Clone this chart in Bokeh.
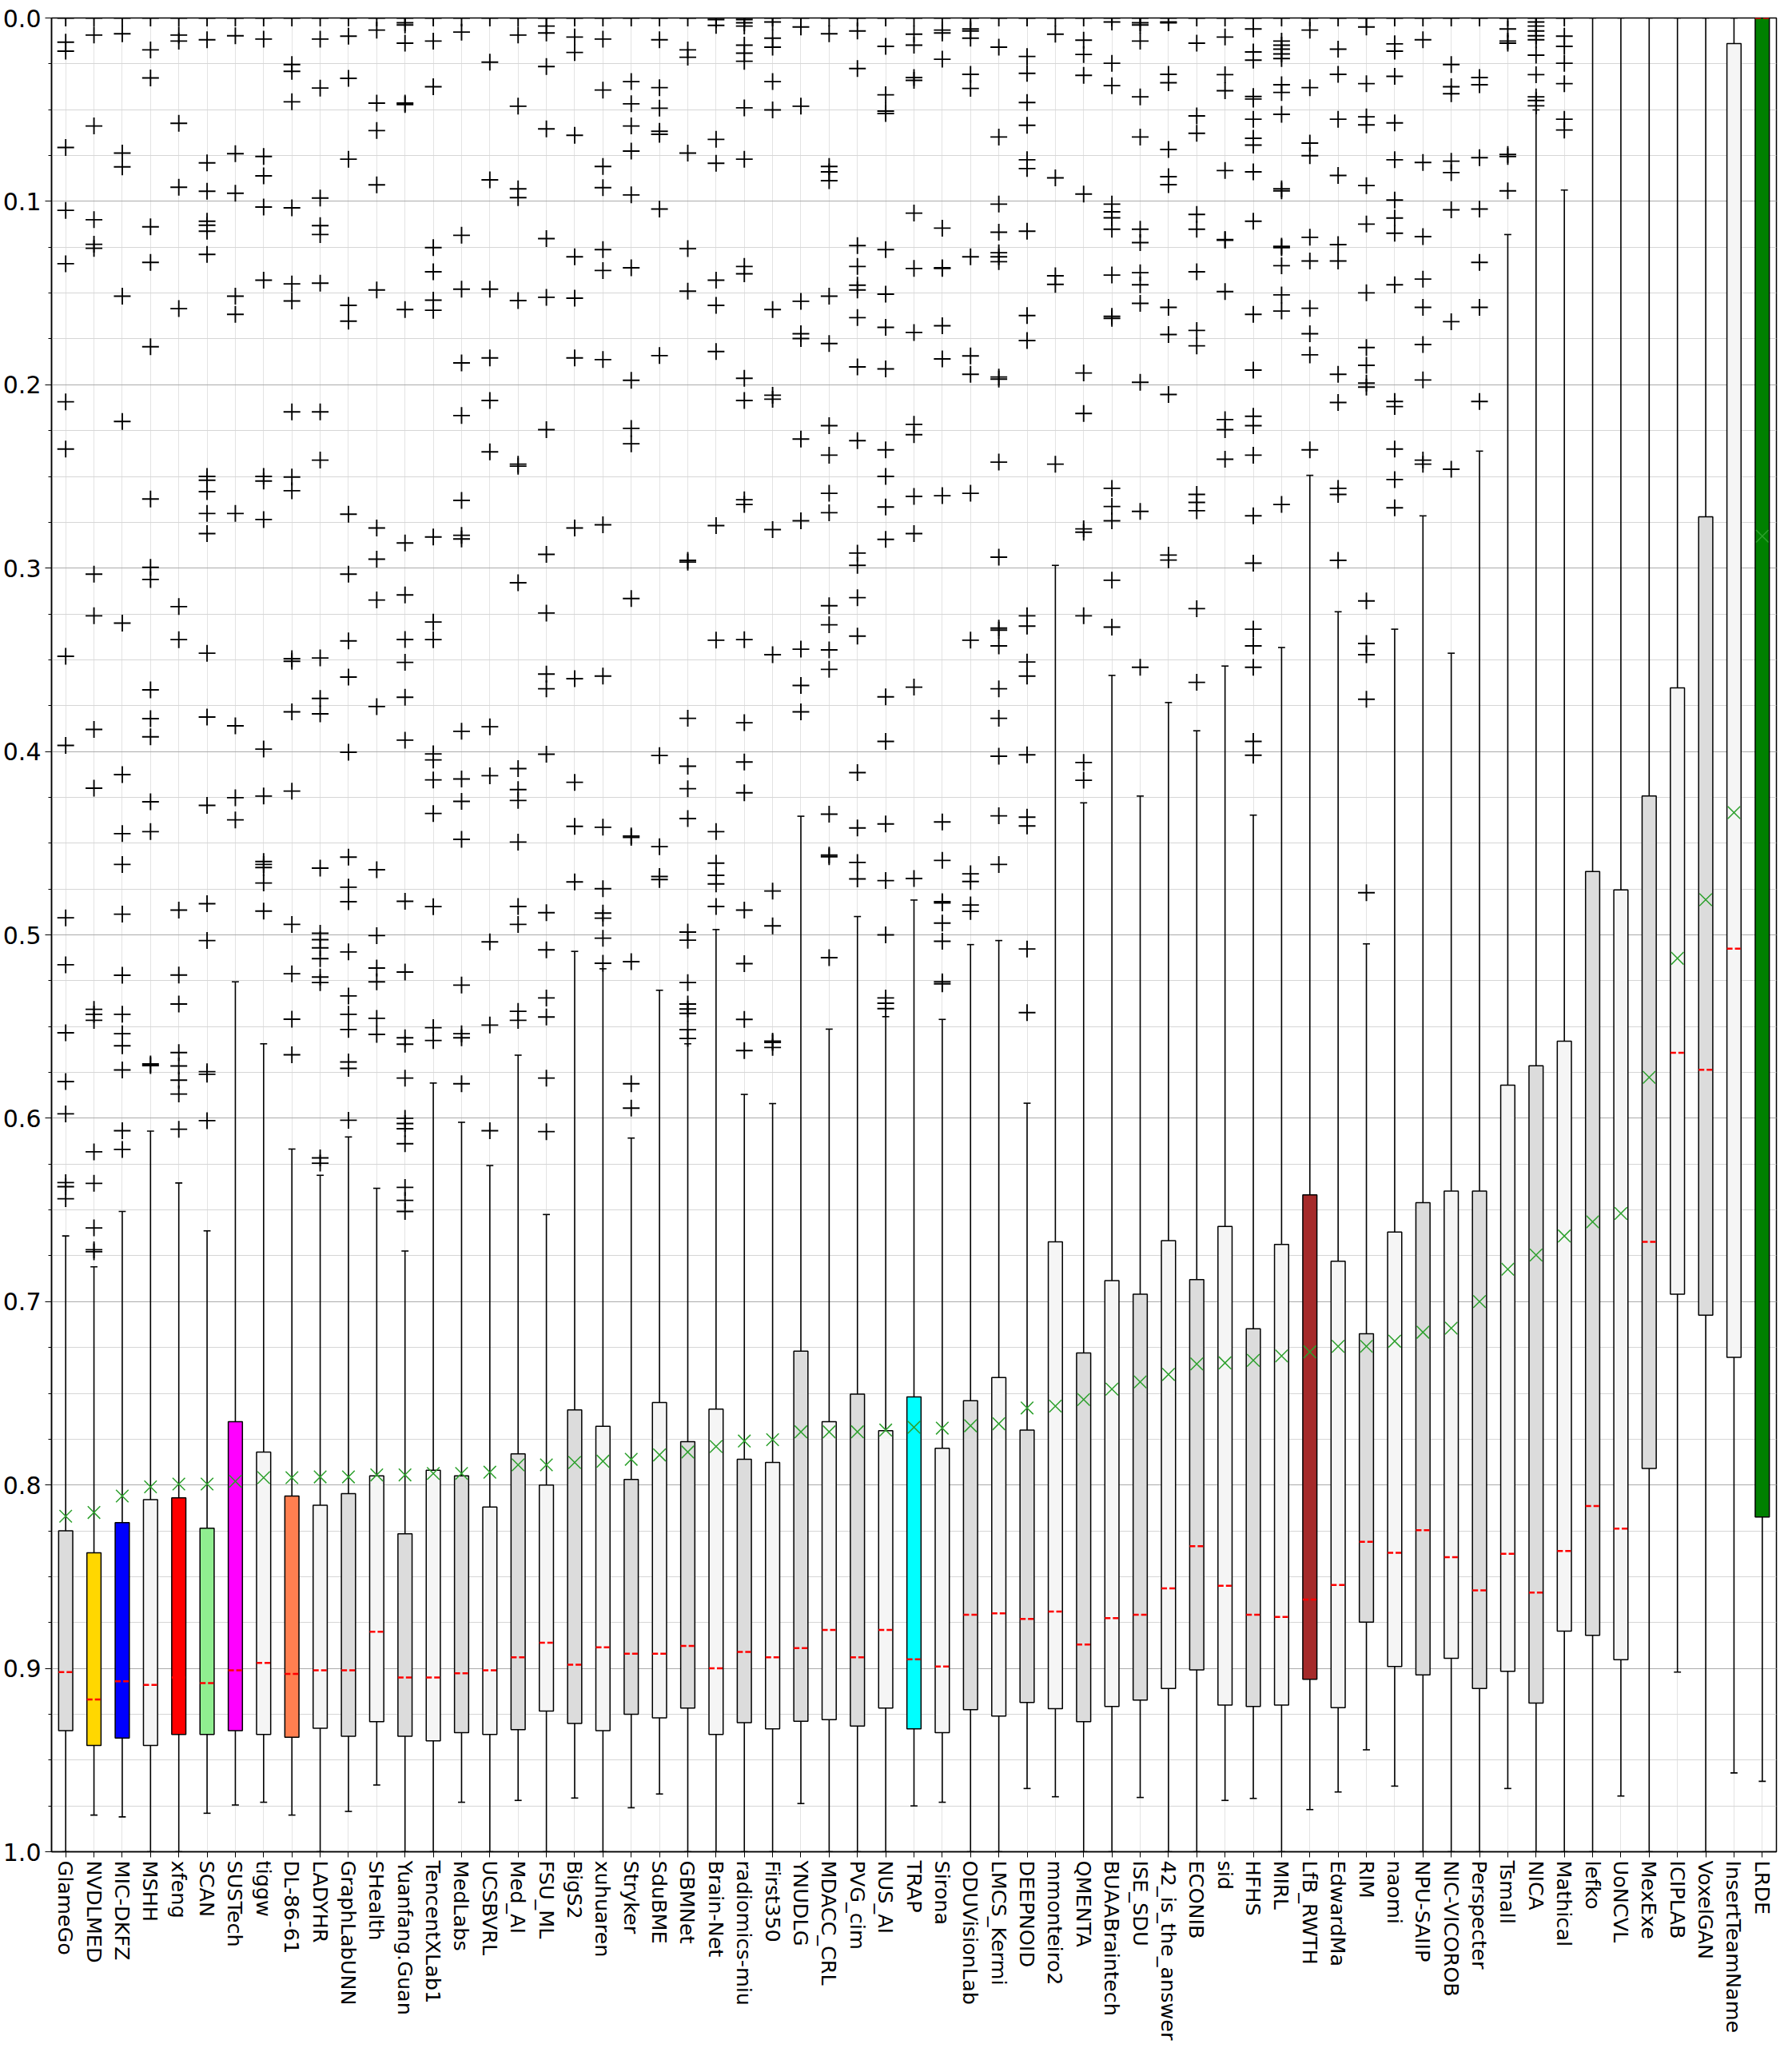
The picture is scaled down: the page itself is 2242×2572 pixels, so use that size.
import numpy as np
from bokeh.plotting import figure
from bokeh.models import Range1d, FixedTicker, PrintfTickFormatter, ColumnDataSource
from bokeh.embed import file_html
from bokeh.resources import INLINE

teams = ["GlameGo", "NVDLMED", "MIC-DKFZ", "MSHH", "xfeng", "SCAN", "SUSTech", "tiggw",
         "DL-86-61", "LADYHR", "GraphLabUNN", "SHealth", "Yuanfang.Guan", "TencentXLab1",
         "MedLabs", "UCSBVRL", "Med_AI", "FSU_ML", "BigS2", "xuhuaren", "Stryker", "SduBME",
         "GBMNet", "Brain-Net", "radiomics-miu", "First350", "YNUDLG", "MDACC_CRL", "PVG_cim",
         "NUS_AI", "TRAP", "Sirona", "ODUVisionLab", "LMCS_Kermi", "DEEPNOID", "mmonteiro2",
         "QMENTA", "BUAABraintech", "ISE_SDU", "42_is_the_answer", "ECONIB", "sid", "HFHS",
         "MIRL", "LfB_RWTH", "EdwardMa", "RIM", "naomi", "NPU-SAIIP", "NIC-VICOROB",
         "Perspecter", "Tsmall", "NICA", "Mathical", "lefko", "UoNCVL", "MexExe", "ICIPLAB",
         "VoxelGAN", "InsertTeamName", "LRDE"]

# box top (lower quartile value, drawn higher since axis is inverted)
q_low = [0.825, 0.837, 0.8205, 0.808, 0.807, 0.8236, 0.7655, 0.782, 0.806, 0.811,
         0.8047, 0.795, 0.8266, 0.792, 0.795, 0.812, 0.783, 0.800, 0.759, 0.768,
         0.797, 0.755, 0.7764, 0.7586, 0.786, 0.7877, 0.727, 0.7655, 0.7504, 0.7704,
         0.752, 0.780, 0.754, 0.7414, 0.770, 0.6674, 0.728, 0.6885, 0.696, 0.6667,
         0.688, 0.659, 0.7148, 0.6688, 0.6418, 0.678, 0.7175, 0.662, 0.646, 0.6397,
         0.6397, 0.582, 0.5714, 0.558, 0.4655, 0.4755, 0.4243, 0.3653, 0.272, 0.0139,
         0.0]
q_high = [0.934, 0.942, 0.938, 0.942, 0.936, 0.936, 0.934, 0.936, 0.9375, 0.9326,
          0.937, 0.929, 0.937, 0.9395, 0.935, 0.936, 0.9334, 0.9233, 0.930, 0.934,
          0.925, 0.927, 0.9216, 0.936, 0.9296, 0.933, 0.9288, 0.928, 0.9315, 0.9216,
          0.933, 0.935, 0.9225, 0.926, 0.9186, 0.922, 0.929, 0.9208, 0.9173, 0.911,
          0.9008, 0.920, 0.9208, 0.920, 0.906, 0.9214, 0.8748, 0.899, 0.9035, 0.8945,
          0.911, 0.9016, 0.9189, 0.8797, 0.882, 0.8953, 0.791, 0.696, 0.7074, 0.7304,
          0.8175]
medians = [0.902, 0.917, 0.907, 0.909, 0.905, 0.908, 0.901, 0.897, 0.903, 0.901,
           0.901, 0.880, 0.905, 0.905, 0.9027, 0.901, 0.894, 0.886, 0.898, 0.8885,
           0.892, 0.892, 0.8877, 0.900, 0.891, 0.894, 0.889, 0.879, 0.894, 0.879,
           0.895, 0.899, 0.8707, 0.870, 0.873, 0.869, 0.887, 0.8726, 0.8707, 0.8564,
           0.8334, 0.855, 0.8707, 0.872, 0.8625, 0.8545, 0.831, 0.837, 0.8247, 0.8394,
           0.8575, 0.8375, 0.8586, 0.836, 0.8115, 0.8238, 0.6674, 0.5643, 0.5736, 0.5075,
           0.0]
means = [0.817, 0.815, 0.806, 0.801, 0.7995, 0.7995, 0.798, 0.796, 0.796, 0.7956,
         0.7956, 0.7945, 0.7945, 0.7937, 0.7937, 0.793, 0.789, 0.789, 0.7877, 0.787,
         0.786, 0.7836, 0.782, 0.779, 0.776, 0.7753, 0.771, 0.771, 0.771, 0.770,
         0.7685, 0.769, 0.7677, 0.7666, 0.758, 0.757, 0.7534, 0.7477, 0.7438, 0.7397,
         0.734, 0.7334, 0.732, 0.7296, 0.7274, 0.7244, 0.7244, 0.7216, 0.7167, 0.7145,
         0.700, 0.6823, 0.6746, 0.6642, 0.6565, 0.6519, 0.5777, 0.5128, 0.4808, 0.4333,
         0.2826]
whisker_low = [0.6642, 0.681, 0.6508, 0.607, 0.6353, 0.6614, 0.5256, 0.5594, 0.6168, 0.6311,
               0.6102, 0.6382, 0.6724, 0.5808, 0.6022, 0.6258, 0.5656, 0.6525, 0.509, 0.5185,
               0.6108, 0.5302, 0.5594, 0.4971, 0.587, 0.592, 0.4353, 0.5514, 0.49, 0.5446,
               0.481, 0.5461, 0.5053, 0.5031, 0.5918, 0.2985, 0.428, 0.3585, 0.4243, 0.3733,
               0.3887, 0.3534, 0.4347, 0.3433, 0.2494, 0.3238, 0.5049, 0.3333, 0.2715, 0.3464,
               0.2362, 0.1181, 0.0501, 0.0938, 0.0, 0.0, 0.0, 0.0, 0.0, 0.0,
               0.0]
whisker_high = [1.0, 0.980, 0.981, 1.0, 1.0, 0.979, 0.9745, 0.973, 0.980, 1.0,
                0.978, 0.9636, 1.0, 1.0, 0.973, 1.0, 0.972, 1.0, 0.9707, 1.0,
                0.976, 0.9685, 1.0, 1.0, 1.0, 1.0, 0.9737, 1.0, 1.0, 1.0,
                0.975, 0.973, 1.0, 1.0, 0.9655, 0.970, 1.0, 1.0, 0.9704, 1.0,
                1.0, 0.972, 0.9709, 1.0, 0.977, 0.9674, 0.9444, 0.9642, 1.0, 1.0,
                1.0, 0.9655, 1.0, 1.0, 1.0, 0.9696, 1.0, 0.902, 1.0, 0.957,
                0.9616]

fliers = [
    [0.0, 0.0132, 0.0181, 0.0706, 0.1049, 0.134, 0.2093, 0.2351, 0.3481, 0.3967, 0.4907, 0.5163, 0.5534, 0.58, 0.5976, 0.6351, 0.6373, 0.6439],
    [0.0, 0.0093, 0.0589, 0.110, 0.1234, 0.1256, 0.3033, 0.326, 0.388, 0.420, 0.5406, 0.5433, 0.5466, 0.6183, 0.6355, 0.6598, 0.6717, 0.6728],
    [0.0, 0.0086, 0.0737, 0.0812, 0.1517, 0.22, 0.33, 0.4126, 0.4448, 0.4616, 0.4887, 0.522, 0.5433, 0.5539, 0.5605, 0.5737, 0.6068, 0.617],
    [0.0, 0.0174, 0.0327, 0.1139, 0.1333, 0.1793, 0.2623, 0.2996, 0.3062, 0.3664, 0.3821, 0.392, 0.4274, 0.4437, 0.5704, 0.5713],
    [0.0, 0.0093, 0.0126, 0.0574, 0.0923, 0.1585, 0.321, 0.339, 0.4865, 0.5219, 0.5377, 0.5642, 0.5715, 0.5792, 0.5868, 0.606],
    [0.0, 0.0119, 0.079, 0.0945, 0.1108, 0.113, 0.1163, 0.1289, 0.25, 0.2521, 0.2583, 0.2702, 0.2812, 0.3464, 0.3812, 0.4294, 0.483, 0.5031, 0.5746, 0.576, 0.6013],
    [0.0, 0.0097, 0.074, 0.0956, 0.1517, 0.1616, 0.2702, 0.386, 0.4252, 0.4373],
    [0.0, 0.0115, 0.0755, 0.0861, 0.1031, 0.143, 0.25, 0.2525, 0.2735, 0.3987, 0.4243, 0.46, 0.4616, 0.4633, 0.4717, 0.487],
    [0.0, 0.0254, 0.0291, 0.0457, 0.1035, 0.145, 0.1543, 0.2148, 0.2503, 0.2578, 0.3494, 0.3508, 0.3784, 0.4216, 0.4943, 0.5212, 0.546, 0.5654],
    [0.0, 0.0115, 0.0382, 0.0982, 0.1132, 0.1181, 0.1446, 0.2148, 0.2411, 0.349, 0.3711, 0.3795, 0.4636, 0.4991, 0.5026, 0.5071, 0.513, 0.523, 0.526, 0.6216, 0.6245],
    [0.0, 0.0099, 0.0329, 0.077, 0.1567, 0.1653, 0.2706, 0.3033, 0.3397, 0.3594, 0.4004, 0.4576, 0.474, 0.4819, 0.5093, 0.5333, 0.5433, 0.5516, 0.5693, 0.5728, 0.6011],
    [0.0, 0.0066, 0.0464, 0.0614, 0.091, 0.1483, 0.2781, 0.2951, 0.3174, 0.3755, 0.4645, 0.5004, 0.5181, 0.5256, 0.5455, 0.5543],
    [0.0, 0.0026, 0.0038, 0.0137, 0.0464, 0.0472, 0.159, 0.2863, 0.3146, 0.3389, 0.3514, 0.3704, 0.3938, 0.4817, 0.5203, 0.5561, 0.5596, 0.5781, 0.6, 0.6029, 0.6057, 0.6139, 0.6377, 0.6448, 0.6508],
    [0.0, 0.0126, 0.0375, 0.1252, 0.1384, 0.1539, 0.1594, 0.283, 0.3294, 0.339, 0.4013, 0.4046, 0.4155, 0.4338, 0.4846, 0.5506, 0.5576],
    [0.0, 0.0077, 0.1185, 0.1479, 0.1881, 0.2168, 0.2631, 0.2821, 0.2841, 0.389, 0.415, 0.4272, 0.4479, 0.5274, 0.5539, 0.5561, 0.5812],
    [0.0, 0.0241, 0.0883, 0.1479, 0.1854, 0.2086, 0.2366, 0.3865, 0.4132, 0.5038, 0.5492, 0.6068],
    [0.0, 0.0093, 0.0481, 0.0932, 0.098, 0.1541, 0.2433, 0.2444, 0.308, 0.4093, 0.4208, 0.4267, 0.4494, 0.4845, 0.4943, 0.5417, 0.5466],
    [0.0, 0.0044, 0.0082, 0.0265, 0.0605, 0.1203, 0.1523, 0.2245, 0.2925, 0.3245, 0.3578, 0.3658, 0.4015, 0.4879, 0.5082, 0.5344, 0.5448, 0.5781, 0.6073],
    [0.0, 0.0104, 0.0188, 0.064, 0.1302, 0.1528, 0.1854, 0.2781, 0.3603, 0.4168, 0.4408, 0.4711],
    [0.0, 0.0115, 0.0393, 0.081, 0.0925, 0.1263, 0.1377, 0.1863, 0.2764, 0.3589, 0.4413, 0.4748, 0.4881, 0.4909, 0.5018, 0.5155],
    [0.0, 0.0347, 0.0468, 0.0589, 0.0726, 0.0965, 0.1362, 0.1976, 0.2238, 0.2322, 0.3166, 0.4461, 0.4468, 0.5146, 0.5812, 0.5945],
    [0.0, 0.0119, 0.038, 0.0492, 0.0618, 0.0634, 0.1042, 0.1841, 0.4022, 0.4519, 0.4682, 0.4698],
    [0.0, 0.0174, 0.0214, 0.0737, 0.1258, 0.149, 0.2958, 0.2967, 0.3819, 0.408, 0.4203, 0.4366, 0.4985, 0.5029, 0.526, 0.5377, 0.5404, 0.5428, 0.5517, 0.5565],
    [0.0, 0.0009, 0.004, 0.0662, 0.0792, 0.143, 0.1567, 0.1819, 0.2768, 0.3393, 0.4437, 0.4609, 0.4675, 0.4722, 0.4845],
    [0.0, 0.0009, 0.0026, 0.0044, 0.0148, 0.0192, 0.0236, 0.049, 0.077, 0.1355, 0.1395, 0.1965, 0.2086, 0.2627, 0.2653, 0.339, 0.3843, 0.4057, 0.4225, 0.4865, 0.5157, 0.5461, 0.5631],
    [0.0, 0.0022, 0.011, 0.0159, 0.0347, 0.0501, 0.159, 0.2057, 0.2079, 0.279, 0.3472, 0.4761, 0.4951, 0.558, 0.5587, 0.5614],
    [0.0, 0.0049, 0.0481, 0.1545, 0.1722, 0.1748, 0.2296, 0.2742, 0.3442, 0.364, 0.3784],
    [0.0, 0.0086, 0.081, 0.0839, 0.0887, 0.1517, 0.1775, 0.2223, 0.2384, 0.2592, 0.2698, 0.3205, 0.3309, 0.3446, 0.3552, 0.4342, 0.4565, 0.4574, 0.5124],
    [0.0, 0.0071, 0.0276, 0.1241, 0.1355, 0.1457, 0.1483, 0.1634, 0.1903, 0.2305, 0.2918, 0.2985, 0.3161, 0.3371, 0.4115, 0.4417, 0.4605, 0.4695],
    [0.0, 0.0155, 0.0419, 0.0508, 0.0521, 0.1263, 0.1506, 0.1687, 0.1914, 0.2355, 0.25, 0.2667, 0.2843, 0.3702, 0.3945, 0.4395, 0.4704, 0.5, 0.5344, 0.5373, 0.5402],
    [0.0, 0.0088, 0.0148, 0.0325, 0.034, 0.1064, 0.1366, 0.1715, 0.2216, 0.2272, 0.2609, 0.2812, 0.3649, 0.4693],
    [0.0, 0.0066, 0.0082, 0.0225, 0.1146, 0.1362, 0.1366, 0.1678, 0.1859, 0.2605, 0.4384, 0.4594, 0.4819, 0.4826, 0.4936, 0.5035, 0.5256, 0.5267],
    [0.0, 0.006, 0.0071, 0.011, 0.0307, 0.0384, 0.1302, 0.1843, 0.1943, 0.2592, 0.3393, 0.4667, 0.4709, 0.4837, 0.4872],
    [0.0, 0.0159, 0.0649, 0.1015, 0.1168, 0.128, 0.1302, 0.1329, 0.1958, 0.1969, 0.2422, 0.294, 0.3327, 0.3338, 0.3424, 0.3658, 0.3819, 0.4026, 0.4351, 0.4616],
    [0.0, 0.021, 0.0302, 0.0461, 0.0585, 0.0773, 0.0821, 0.1163, 0.1623, 0.1759, 0.326, 0.3316, 0.3512, 0.3589, 0.4018, 0.4358, 0.4406, 0.5077, 0.5424],
    [0.0, 0.0088, 0.0872, 0.1406, 0.1453, 0.2433],
    [0.0, 0.0121, 0.0199, 0.0313, 0.096, 0.1936, 0.2157, 0.2786, 0.2804, 0.326, 0.406, 0.4157],
    [0.0, 0.0022, 0.0247, 0.0369, 0.1015, 0.1057, 0.109, 0.1152, 0.1402, 0.1627, 0.1638, 0.2565, 0.2664, 0.2742, 0.3066, 0.3322],
    [0.0, 0.0026, 0.0038, 0.0126, 0.043, 0.0649, 0.1152, 0.1225, 0.1389, 0.1455, 0.1556, 0.1987, 0.2691, 0.3541],
    [0.0, 0.0022, 0.0026, 0.0307, 0.0353, 0.0717, 0.0865, 0.0909, 0.1578, 0.1726, 0.2053, 0.2929, 0.2956],
    [0.0, 0.0137, 0.0534, 0.0629, 0.1071, 0.1152, 0.1384, 0.1704, 0.1788, 0.2598, 0.2642, 0.2687, 0.3221, 0.3623],
    [0.0, 0.0104, 0.0309, 0.0397, 0.0832, 0.1208, 0.1212, 0.1492, 0.219, 0.2245, 0.2406],
    [0.0, 0.006, 0.0185, 0.023, 0.0428, 0.0442, 0.0552, 0.0656, 0.0693, 0.0839, 0.1108, 0.1616, 0.192, 0.2172, 0.2223, 0.2384, 0.2715, 0.2973, 0.3333, 0.3424, 0.3541, 0.3945, 0.402],
    [0.0, 0.0126, 0.0148, 0.017, 0.0196, 0.0221, 0.0364, 0.0406, 0.0525, 0.0932, 0.0943, 0.1245, 0.1252, 0.1351, 0.151, 0.1598, 0.2653],
    [0.0, 0.0066, 0.038, 0.0682, 0.0751, 0.1196, 0.1325, 0.1583, 0.1722, 0.1837, 0.2355],
    [0.0, 0.017, 0.0307, 0.0552, 0.0859, 0.1236, 0.1325, 0.1943, 0.2097, 0.2565, 0.2598, 0.2958],
    [0.0, 0.0049, 0.0358, 0.0539, 0.0583, 0.0914, 0.1124, 0.1499, 0.1797, 0.1894, 0.1991, 0.2013, 0.3179, 0.3411, 0.3472, 0.3715, 0.477],
    [0.0, 0.0141, 0.0181, 0.0318, 0.0572, 0.0773, 0.0993, 0.1091, 0.1174, 0.1455, 0.2091, 0.2119, 0.2351, 0.2517, 0.2671],
    [0.0, 0.0119, 0.0788, 0.1192, 0.1424, 0.1578, 0.1781, 0.1974, 0.2411, 0.2433],
    [0.0, 0.0254, 0.0375, 0.0413, 0.0781, 0.0843, 0.1046, 0.1656, 0.2461],
    [0.0, 0.0325, 0.0364, 0.0762, 0.1042, 0.1333, 0.1578, 0.2091],
    [0.0, 0.006, 0.0126, 0.0137, 0.0744, 0.0755, 0.0943],
    [0.0, 0.0022, 0.0044, 0.0071, 0.0097, 0.0119, 0.0203, 0.0309, 0.043, 0.045, 0.0479],
    [0.0, 0.0099, 0.0155, 0.0247, 0.0358, 0.0552, 0.0611],
    [], [], [], [], [], [], [],
]

highlight_colors = {"NVDLMED": "#FFD700", "MIC-DKFZ": "#0000FF", "xfeng": "#FF0000",
                    "SCAN": "#90EE90", "SUSTech": "#FF00FF", "DL-86-61": "#FF7F50",
                    "TRAP": "#00FFFF", "LfB_RWTH": "#A52A2A", "LRDE": "#008000"}

y_ticks = [0.0, 0.1, 0.2, 0.3, 0.4, 0.5, 0.6, 0.7, 0.8, 0.9, 1.0]
y_minor = [k * 0.025 for k in range(41)]

# ---------------------------------------------------------------
n = len(teams)
xs = list(range(n))
fills = [highlight_colors.get(t, "#dcdcdc" if i % 2 == 0 else "#f5f5f5") for i, t in enumerate(teams)]

box_w = 0.5
cap_w = 0.25

p = figure(width=2226, height=2556, x_range=Range1d(-0.5, n - 0.5), y_range=Range1d(1.0, 0.0),
           output_backend="svg", toolbar_location=None,
           min_border_left=64, min_border_right=4, min_border_top=22, min_border_bottom=240)

p.background_fill_color = "white"
p.border_fill_color = "white"
p.outline_line_color = "black"
p.outline_line_width = 1.5

# axes
p.xaxis.ticker = FixedTicker(ticks=xs)
p.xaxis.major_label_overrides = {i: t for i, t in enumerate(teams)}
p.xaxis.major_label_orientation = -np.pi / 2
p.xaxis.major_label_text_font = "DejaVu Sans"
p.xaxis.major_label_text_font_size = "25.5px"
p.xaxis.major_label_text_color = "black"
p.xaxis.major_label_standoff = 4
p.xaxis.major_tick_out = 7
p.xaxis.major_tick_in = 0
p.xaxis.minor_tick_out = 0
p.xaxis.axis_line_color = "black"
p.xaxis.axis_line_width = 1.5
p.xaxis.major_tick_line_color = "black"

p.yaxis.ticker = FixedTicker(ticks=y_ticks, minor_ticks=y_minor)
p.yaxis.formatter = PrintfTickFormatter(format="%.1f")
p.yaxis.major_label_text_font = "DejaVu Sans"
p.yaxis.major_label_text_font_size = "30px"
p.yaxis.major_label_text_color = "black"
p.yaxis.major_tick_out = 8
p.yaxis.major_tick_in = 0
p.yaxis.minor_tick_out = 4
p.yaxis.minor_tick_in = 0
p.yaxis.axis_line_color = "black"
p.yaxis.axis_line_width = 1.5

# grids
p.xgrid.grid_line_color = "#e3e3e3"
p.xgrid.grid_line_width = 1
p.ygrid.grid_line_color = "#ababab"
p.ygrid.grid_line_width = 1
p.ygrid.minor_grid_line_color = "#d6d6d6"
p.ygrid.minor_grid_line_width = 1

src = ColumnDataSource(dict(
    x=xs, q_low=q_low, q_high=q_high, med=medians, mean=means,
    wl=whisker_low, wh=whisker_high, fill=fills,
    xl=[x - box_w / 2 for x in xs], xr=[x + box_w / 2 for x in xs],
    cl=[x - cap_w / 2 for x in xs], cr=[x + cap_w / 2 for x in xs],
))

# whiskers
p.segment(x0="x", y0="wl", x1="x", y1="q_low", source=src, line_color="black", line_width=1.6)
p.segment(x0="x", y0="q_high", x1="x", y1="wh", source=src, line_color="black", line_width=1.6)
# caps
p.segment(x0="cl", y0="wl", x1="cr", y1="wl", source=src, line_color="black", line_width=1.6)
p.segment(x0="cl", y0="wh", x1="cr", y1="wh", source=src, line_color="black", line_width=1.6)
# boxes
p.vbar(x="x", width=box_w, top="q_low", bottom="q_high", source=src,
       fill_color="fill", line_color="black", line_width=1.5)
# medians
p.segment(x0="xl", y0="med", x1="xr", y1="med", source=src,
          line_color="red", line_width=2.5, line_dash="7 3")
# means
p.scatter(x="x", y="mean", source=src, marker="x", size=22,
          line_color="#2ca02c", line_width=1.5)

# outliers
fx, fy = [], []
for i, vals in enumerate(fliers):
    for v in vals:
        fx.append(i)
        fy.append(v)
p.scatter(x=fx, y=fy, marker="cross", size=21, line_color="black", line_width=1.9)

open("out.html", "w").write(file_html(p, INLINE))
